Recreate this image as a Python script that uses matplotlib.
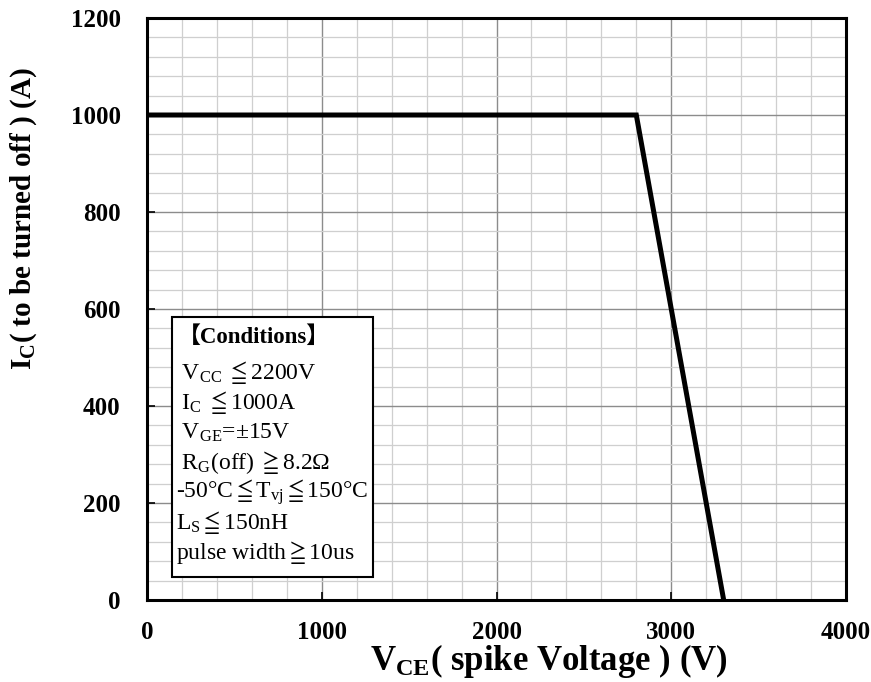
import matplotlib
matplotlib.use('Agg')
import matplotlib.pyplot as plt
from matplotlib.ticker import MultipleLocator

# RBSOA curve corner points
vce = [0, 2800, 3300]
ic = [1000, 1000, 0]

x_ticks = [0, 1000, 2000, 3000, 4000]
y_ticks = [0, 200, 400, 600, 800, 1000, 1200]

heading = "【Conditions】"
conditions = [
    r" $\mathrm{V_{CC}}\ \leqq$2200V",
    r" $\mathrm{I_{C}}\ \leqq$1000A",
    r" $\mathrm{V_{GE}}$=±15V",
    r" $\mathrm{R_{G}}$(off)$\ \geqq$8.2Ω",
    r"-50°C$\leqq\mathrm{T_{vj}}\leqq$150°C",
    r"$\mathrm{L_{S}}\leqq$150nH",
    r"pulse width$\geqq$10us",
]

plt.rcParams['font.family'] = ['Liberation Serif', 'DejaVu Serif']
plt.rcParams['mathtext.fontset'] = 'custom'
plt.rcParams['mathtext.rm'] = 'Liberation Serif'
plt.rcParams['mathtext.it'] = 'Liberation Serif:italic'
plt.rcParams['mathtext.bf'] = 'Liberation Serif:bold'
plt.rcParams['mathtext.fallback'] = 'stix'

fig = plt.figure(figsize=(8.71, 6.82), dpi=100)
ax = fig.add_axes([0.1688, 0.1202, 0.8025, 0.8534])

ax.plot(vce, ic, color='black', linewidth=3.6, solid_joinstyle='miter', zorder=3)

ax.set_xlim(0, 4000)
ax.set_ylim(0, 1200)
ax.set_xticks(x_ticks)
ax.set_yticks(y_ticks)
ax.xaxis.set_minor_locator(MultipleLocator(200))
ax.yaxis.set_minor_locator(MultipleLocator(40))
ax.grid(which='major', color='#8c8c8c', linewidth=1.0)
ax.grid(which='minor', color='#cfcfcf', linewidth=0.9)
ax.set_axisbelow(True)

ax.tick_params(which='major', direction='in', length=6, width=1.2, labelsize=18)
ax.tick_params(axis='y', pad=19)
ax.tick_params(axis='x', pad=15)
ax.tick_params(which='minor', length=0)
for lab in ax.get_xticklabels() + ax.get_yticklabels():
    lab.set_fontweight('bold')
for sp in ax.spines.values():
    sp.set_linewidth(2.2)

ax.set_xlabel(r"$\mathbf{V_{CE}}$( spike Voltage ) (V)", fontsize=25,
              fontweight='bold')
ax.xaxis.set_label_coords(0.575, -0.072)
ax.set_ylabel(r"$\mathbf{I_{C}}$( to be turned off ) (A)", fontsize=21,
              fontweight='bold')
ax.yaxis.set_label_coords(-0.155, 0.655)

# conditions box
box = plt.Rectangle((0.036, 0.039), 0.288, 0.448, transform=ax.transAxes,
                    facecolor='white', edgecolor='black', linewidth=1.5, zorder=4)
ax.add_patch(box)
ax.text(0.044, 0.451, heading, transform=ax.transAxes, fontsize=16.5,
        fontweight='bold', family=['Liberation Serif', 'Noto Sans CJK JP'],
        va='center', zorder=5)
for i, line in enumerate(conditions):
    ax.text(0.042, 0.391 - i * 0.0515, line, transform=ax.transAxes,
            fontsize=17, va='center', zorder=5)

fig.savefig('out.png', dpi=100)
